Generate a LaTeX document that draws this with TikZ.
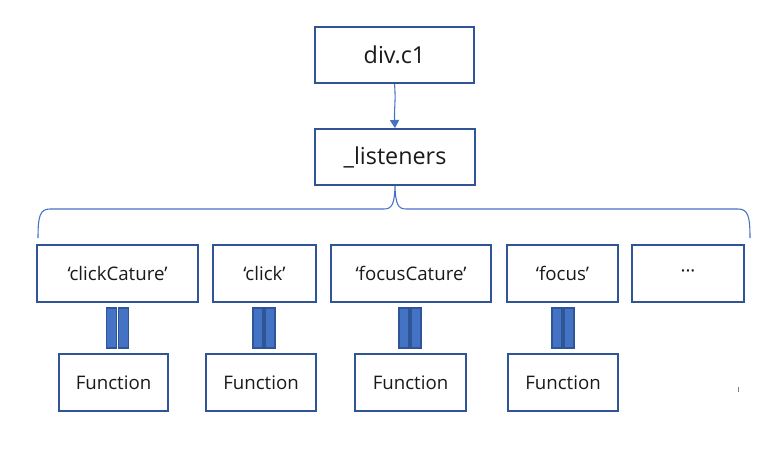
\documentclass[tikz,border=0pt]{standalone}
\usepackage{fontspec}
\setmainfont{Open Sans}
\usetikzlibrary{arrows.meta}
\definecolor{boxblue}{HTML}{2F5597}
\definecolor{lineblue}{HTML}{4472C4}
\definecolor{txt}{HTML}{1A1A1A}
\tikzset{
  box/.style={draw=boxblue, line width=1.5pt, fill=white, inner sep=0pt, text=txt},
  big/.style={font=\fontsize{17.5pt}{20pt}\selectfont},
  small/.style={font=\fontsize{14pt}{16pt}\selectfont},
  bar/.style={draw=boxblue, line width=1pt, fill=lineblue, inner sep=0pt,
    minimum width={10*0.75pt}, minimum height={40*0.75pt}},
  conn/.style={draw=lineblue, line width=0.8pt},
}
\begin{document}
\begin{tikzpicture}[x=0.75pt,y=-0.75pt]
\useasboundingbox (0,0) rectangle (781,453);
\node[box,big,minimum width={159*0.75pt},minimum height={56*0.75pt}] (div) at (394.5,55) {div.c1};
\node[box,big,minimum width={160*0.75pt},minimum height={56*0.75pt}] (lis) at (395,157) {\_listeners};
\draw[conn,-{Triangle[length=6pt,width=7pt]}] (div.south) .. controls (396,100) and (394,110) .. (lis.north);
% keys
\node[box,small,minimum width={161*0.75pt},minimum height={57*0.75pt}] (k1) at (117.5,273.5) {‘clickCature’};
\node[box,small,minimum width={103*0.75pt},minimum height={57*0.75pt}] (k2) at (264.5,273.5) {‘click’};
\node[box,small,minimum width={160*0.75pt},minimum height={57*0.75pt}] (k3) at (411,273.5) {‘focusCature’};
\node[box,small,minimum width={111*0.75pt},minimum height={57*0.75pt}] (k4) at (562.5,273.5) {‘focus’};
\node[box,small,minimum width={112*0.75pt},minimum height={57*0.75pt}] (k5) at (688,273.5) {···};
% brace
\coordinate (bl) at (38,238);
\coordinate (br) at (750,238);
\draw[conn] (bl) .. controls (38,216) and (40,209) .. (50,209) -- (384,209)
  .. controls (392,209) and (394.5,204) .. (lis.south)
  .. controls (395.5,204) and (398,209) .. (406,209) -- (738,209)
  .. controls (748,209) and (750,216) .. (br);
% functions
\node[box,small,minimum width={109*0.75pt},minimum height={57*0.75pt}] (f1) at (113.5,382.5) {Function};
\node[box,small,minimum width={110*0.75pt},minimum height={57*0.75pt}] (f2) at (261,382.5) {Function};
\node[box,small,minimum width={111*0.75pt},minimum height={57*0.75pt}] (f3) at (410.5,382.5) {Function};
\node[box,small,minimum width={110*0.75pt},minimum height={57*0.75pt}] (f4) at (563,382.5) {Function};
% double bars
\node[bar] (b1a) at (111.5,328) {};
\node[bar] (b1b) at (123.5,328) {};
\node[bar] (b2a) at (258,328) {};
\node[bar] (b2b) at (270,328) {};
\node[bar] (b3a) at (404,328) {};
\node[bar] (b3b) at (416,328) {};
\node[bar] (b4a) at (557,328) {};
\node[bar] (b4b) at (569,328) {};
% tiny mark
\coordinate (t1) at (738,387);
\coordinate (t2) at (738,391.5);
\draw[gray,line width=0.6pt] (t1) -- (t2);
\end{tikzpicture}
\end{document}
